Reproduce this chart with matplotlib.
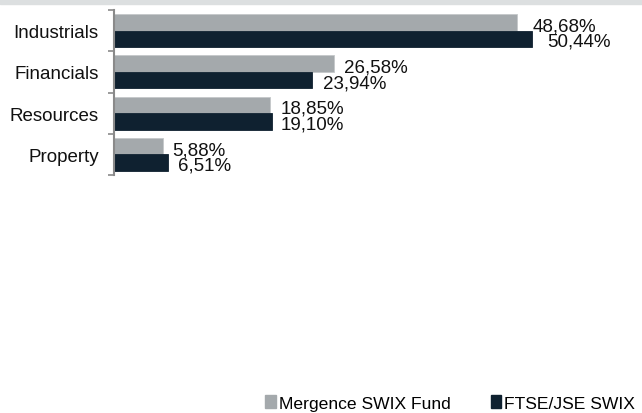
import matplotlib
matplotlib.use("Agg")
import matplotlib.pyplot as plt
from matplotlib.patches import Patch, Rectangle
import numpy as np

plt.rcParams['font.family'] = ['Liberation Sans', 'DejaVu Sans']

categories = ["Industrials", "Financials", "Resources", "Property"]
fund = [48.68, 26.58, 18.85, 5.88]
index = [50.44, 23.94, 19.10, 6.51]
series_names = ["Mergence SWIX Fund", "FTSE/JSE SWIX"]

c_fund = "#a4a9ac"
c_index = "#0f2130"

# label offsets (px) beyond bar ends
off_fund = [15, 10, 10, 9]
off_index = [15, 11, 8, 10]

W, H = 642, 414
fig = plt.figure(figsize=(W / 100, H / 100), dpi=100)
fig.patches.append(Rectangle((0, 1 - 4.5 / H), 1, 4.5 / H, transform=fig.transFigure,
                             color="#dcdfe0", zorder=0))

ax_left, ax_top, ax_bottom = 114, 11, 176
xmax = (630 - ax_left) / ((532 - ax_left) / 50.44)
ax = fig.add_axes([ax_left / W, 1 - ax_bottom / H, (630 - ax_left) / W, (ax_bottom - ax_top) / H])

y = np.arange(len(categories))
h = 0.4
ax.barh(y - h / 2, fund, height=h, color=c_fund, edgecolor="#c4c8ca", linewidth=0.6)
ax.barh(y + h / 2, index, height=h, color=c_index, edgecolor=c_index, linewidth=0.6)

fs = 13.5
for i in range(len(categories)):
    ax.annotate(f"{fund[i]:.2f}%".replace(".", ","), (fund[i], y[i] - h / 2),
                xytext=(off_fund[i] * 0.72, -2.5), textcoords="offset points",
                va="center", ha="left", fontsize=fs, color="#111111")
    ax.annotate(f"{index[i]:.2f}%".replace(".", ","), (index[i], y[i] + h / 2),
                xytext=(off_index[i] * 0.72, -1.8), textcoords="offset points",
                va="center", ha="left", fontsize=fs, color="#111111")

ax.set_xlim(0, xmax)
ax.set_ylim(len(categories) - 0.5, -0.5)
ax.set_yticks(y)
ax.set_yticklabels(categories, fontsize=fs, color="#111111")
ax.set_yticks(np.arange(-0.5, len(categories)), minor=True)
ax.tick_params(axis="y", which="major", length=0, pad=11)
ax.tick_params(axis="y", which="minor", length=4, width=1.2, color="#8a8a8a", direction="out")
ax.set_xticks([])
for s in ["top", "right", "bottom"]:
    ax.spines[s].set_visible(False)
ax.spines["left"].set_color("#8a8a8a")
ax.spines["left"].set_linewidth(1.5)
ax.patch.set_alpha(0)

handles = [Patch(facecolor=c_fund, edgecolor=c_fund), Patch(facecolor=c_index, edgecolor=c_index)]
fig.legend(handles, series_names, loc="center left", bbox_to_anchor=(265 / W, 1 - 404 / H),
           ncol=2, frameon=False, fontsize=12.6, handlelength=0.6, handleheight=0.7,
           handletextpad=0.18, columnspacing=2.3, borderpad=0, borderaxespad=0)

fig.savefig("out.png", dpi=100)
